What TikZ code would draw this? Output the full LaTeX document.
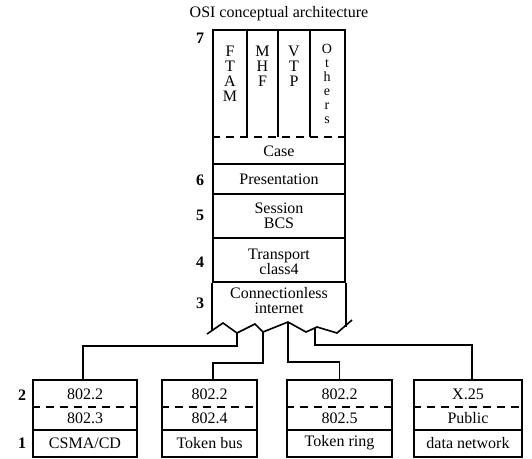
\documentclass[tikz,border=0pt]{standalone}
\usepackage{fontspec}
\setmainfont{Liberation Serif}
\tikzset{
  lbl/.style={font=\fontsize{16}{15}\selectfont, inner sep=0pt, align=center},
  num/.style={font=\fontsize{16}{16}\selectfont\bfseries, inner sep=0pt},
  sep/.style={dash pattern=on 8pt off 6pt},
  layerbox/.style={draw, inner sep=0pt, minimum width=132pt, minimum height=#1},
  lanbox/.style={draw, inner sep=0pt, minimum width=#1, minimum height=77pt},
}
\begin{document}
\begin{tikzpicture}[x=1pt, y=-1pt, line width=1.6pt]
  \useasboundingbox (0,0) rectangle (532,458);

  \node[lbl] (title) at (279,14) {OSI conceptual architecture};

  % upper stack
  \node[layerbox=134pt] (appl) at (279,97) {};
  \node[layerbox=30pt] (pres) at (279,179) {};
  \node[layerbox=44pt] (sess) at (279,216) {};
  \node[layerbox=44pt] (trans) at (279,260) {};
  \foreach \x in {247,278,310}
    \draw (\x,30) -- (\x,137);
  \draw[sep] (appl.west |- 0,137) -- (appl.east |- 0,137);

  \node[lbl, anchor=north] (ftam) at (230,45) {F\\T\\A\\M};
  \node[lbl, anchor=north] (mhf) at (262.5,45) {M\\H\\F};
  \node[lbl, anchor=north] (vtp) at (294,45) {V\\T\\P};
  \node[lbl, anchor=north, font=\fontsize{14}{14}\selectfont] (others) at (327,43) {O\\t\\h\\e\\r\\s};
  \node[lbl] (case) at (279,151) {Case};
  \node[lbl] at (pres) {Presentation};
  \node[lbl] at (sess) {Session\\BCS};
  \node[lbl] at ([yshift=-1.5pt]trans.center) {Transport\\class4};
  \node[lbl] (inet) at (279,300.5) {Connectionless\\internet};

  % broken bottom of layer 3
  \draw (trans.south west) -- ++(0,48);
  \draw (trans.south east) -- ++(0,44);
  \draw (207,334) -- (223,323) -- (237,333) -- (255,324) -- (263,332)
    -- (288,322) -- (306,332) -- (317,327) -- (337,333) -- (352,320);
  \coordinate (zA) at (237,333);
  \coordinate (zB) at (263,332);
  \coordinate (zC) at (288,322);
  \coordinate (zD) at (315,328);

  % layer numbers
  \node[num] at (200,38) {7};
  \node[num] at (200,180) {6};
  \node[num] at (200,215) {5};
  \node[num] at (200,262) {4};
  \node[num] at (200,303) {3};
  \node[num] at (22,395) {2};
  \node[num] at (22,443) {1};

  % subnetworks
  \node[lanbox=104pt] (lanA) at (85,418.5) {};
  \node[lanbox=95pt] (lanB) at (209.5,418.5) {};
  \node[lanbox=105pt] (lanC) at (339.5,418.5) {};
  \node[lanbox=108pt] (lanD) at (468,418.5) {};
  \foreach \b in {lanA,lanB,lanC,lanD}{
    \draw[sep] (\b.west |- 0,407) -- (\b.east |- 0,407);
    \draw (\b.west |- 0,430) -- (\b.east |- 0,430);
  }

  \node[lbl] at (85,394) {802.2};
  \node[lbl] at (85,418) {802.3};
  \node[lbl] at (85,443) {CSMA/CD};
  \node[lbl] at (209.5,394) {802.2};
  \node[lbl] at (209.5,418) {802.4};
  \node[lbl] at (209.5,443) {Token bus};
  \node[lbl] at (339.5,394) {802.2};
  \node[lbl] at (339.5,418) {802.5};
  \node[lbl] at (339.5,443) {Token ring};
  \node[lbl] at (468,394) {X.25};
  \node[lbl] at (468,418) {Public};
  \node[lbl] at (468,443) {data network};

  % links
  \draw (zA) -- ++(0,13) -| ([xshift=-2pt]lanA.north);
  \draw (zB) -- ++(0,31) -| ([xshift=3.5pt]lanB.north);
  \draw (zC) -- ++(0,40) -| (lanC.north);
  \draw (zD) -- ++(0,17) -| ([xshift=4pt]lanD.north);
\end{tikzpicture}
\end{document}
